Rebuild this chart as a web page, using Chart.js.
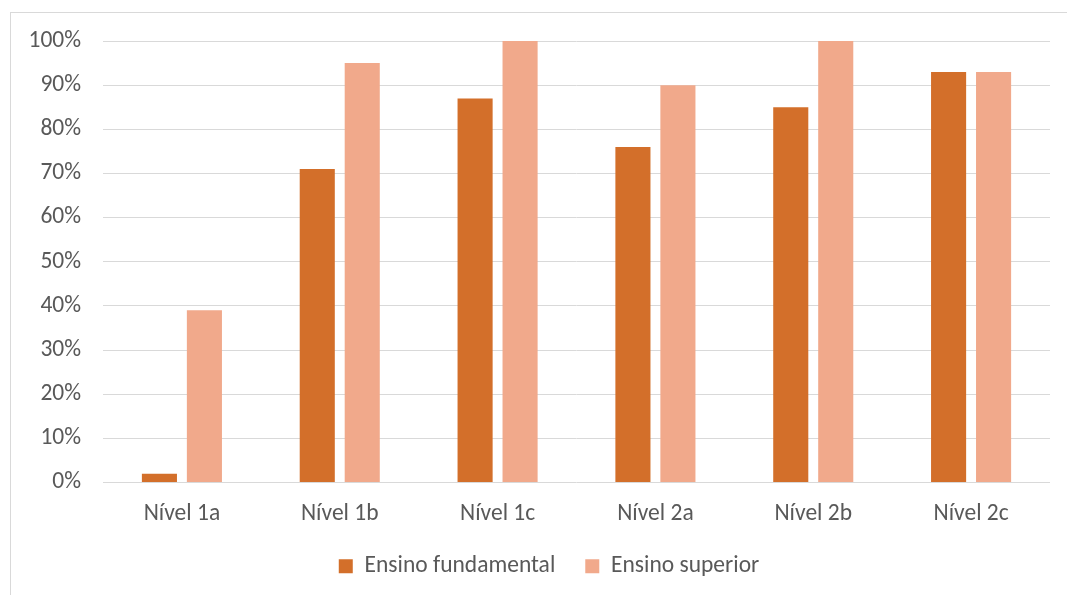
<!DOCTYPE html>
<html>
<head>
<meta charset="utf-8">
<script src="https://cdn.jsdelivr.net/npm/chart.js@4/dist/chart.umd.min.js"></script>
<style>
  html, body { margin: 0; padding: 0; background: #fff; overflow: hidden; }
  #wrap { position: relative; width: 1067px; height: 595px; overflow: hidden; }
  #frame { position: absolute; left: 10px; top: 12px; width: 1100px; height: 640px; border: 1px solid #d9d9d9; box-sizing: border-box; }
  #chart { position: absolute; left: 0; top: 0; }
</style>
</head>
<body>
<div id="wrap">
  <div id="frame"></div>
  <canvas id="chart" width="1067" height="595"></canvas>
</div>
<script>
// Níveis de proficiência e percentual por escolaridade
const categories = ['Nível 1a', 'Nível 1b', 'Nível 1c', 'Nível 2a', 'Nível 2b', 'Nível 2c'];
const ensinoFundamental = [2, 71, 87, 76, 85, 93];
const ensinoSuperior = [39, 95, 100, 90, 100, 93];
const seriesNames = ['Ensino fundamental', 'Ensino superior'];
const yTicks = [0, 10, 20, 30, 40, 50, 60, 70, 80, 90, 100];

const FONT = 'Calibri, Carlito, Lato, "Open Sans", sans-serif';
const FONT_SIZE = 23.5;
const TEXT = '#595959';
const GRID = '#d9d9d9';

// The legend is centred under the frame rather than under the whole canvas.
const legendLeftInset = 48;
const legendInset = {
  id: 'legendInset',
  afterLayout(chart) {
    if (chart.legend) chart.legend.left = legendLeftInset;
  }
};

new Chart(document.getElementById('chart'), {
  type: 'bar',
  data: {
    labels: categories,
    datasets: [
      { label: seriesNames[0], data: ensinoFundamental, backgroundColor: '#d36f2a',
        categoryPercentage: 0.57, barPercentage: 0.78 },
      { label: seriesNames[1], data: ensinoSuperior, backgroundColor: '#f1a98b',
        categoryPercentage: 0.57, barPercentage: 0.78 }
    ]
  },
  plugins: [legendInset],
  options: {
    responsive: false,
    animation: false,
    layout: { padding: { top: 41, right: 17, bottom: 7, left: 0 } },
    plugins: {
      tooltip: { enabled: false },
      legend: {
        position: 'bottom',
        labels: {
          color: TEXT,
          font: { family: FONT, size: FONT_SIZE },
          boxWidth: 14, boxHeight: 14, padding: 30
        }
      }
    },
    scales: {
      x: {
        grid: { display: false, drawTicks: false },
        border: { display: false },
        ticks: { color: TEXT, font: { family: FONT, size: FONT_SIZE }, padding: 18, maxRotation: 0 },
        afterFit: (s) => { s.height = 42; }
      },
      y: {
        min: 0, max: 100,
        afterBuildTicks: (s) => { s.ticks = yTicks.map(v => ({ value: v })); },
        grid: { color: GRID, lineWidth: 1, drawTicks: false },
        border: { display: false },
        ticks: { color: TEXT, font: { family: FONT, size: FONT_SIZE }, padding: 22,
                 callback: (v) => v + '%' },
        afterFit: (s) => { s.width = 103; }
      }
    }
  }
});
</script>
</body>
</html>
